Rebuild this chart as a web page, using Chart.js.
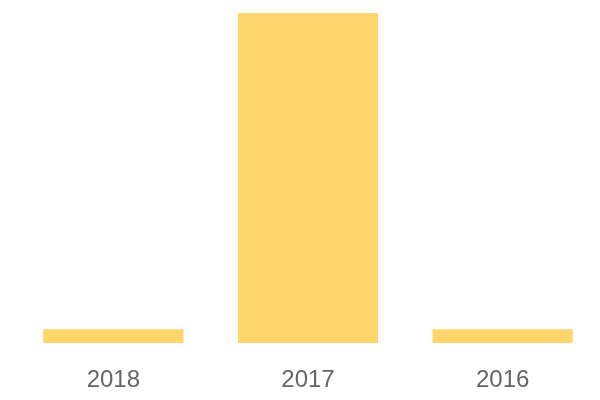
<!DOCTYPE html>
<html>
<head>
<meta charset="utf-8">
<script src="https://cdn.jsdelivr.net/npm/chart.js@4"></script>
<style>
html,body{margin:0;padding:0;background:#fff;}
#wrap{width:600px;height:400px;}
</style>
</head>
<body>
<div id="wrap"><canvas id="c" width="600" height="400"></canvas></div>
<script>
const categories = ["2018", "2017", "2016"];
const values = [1, 24, 1];
const barColor = "rgb(254,214,108)";

new Chart(document.getElementById("c"), {
  type: "bar",
  data: {
    labels: categories,
    datasets: [{ data: values, backgroundColor: barColor, borderWidth: 0 }]
  },
  options: {
    responsive: false,
    animation: false,
    layout: { padding: { top: 13, left: 16, right: 0, bottom: 0 } },
    plugins: { legend: { display: false }, tooltip: { enabled: false } },
    scales: {
      x: {
        grid: { display: false, drawTicks: false },
        border: { display: false },
        afterFit: (scale) => { scale.height = 57; },
        ticks: { color: "#666", padding: 23, font: { family: "Liberation Sans, Arial, sans-serif", size: 24 } }
      },
      y: { display: false, min: 0, max: 24 }
    }
  }
});
</script>
</body>
</html>
